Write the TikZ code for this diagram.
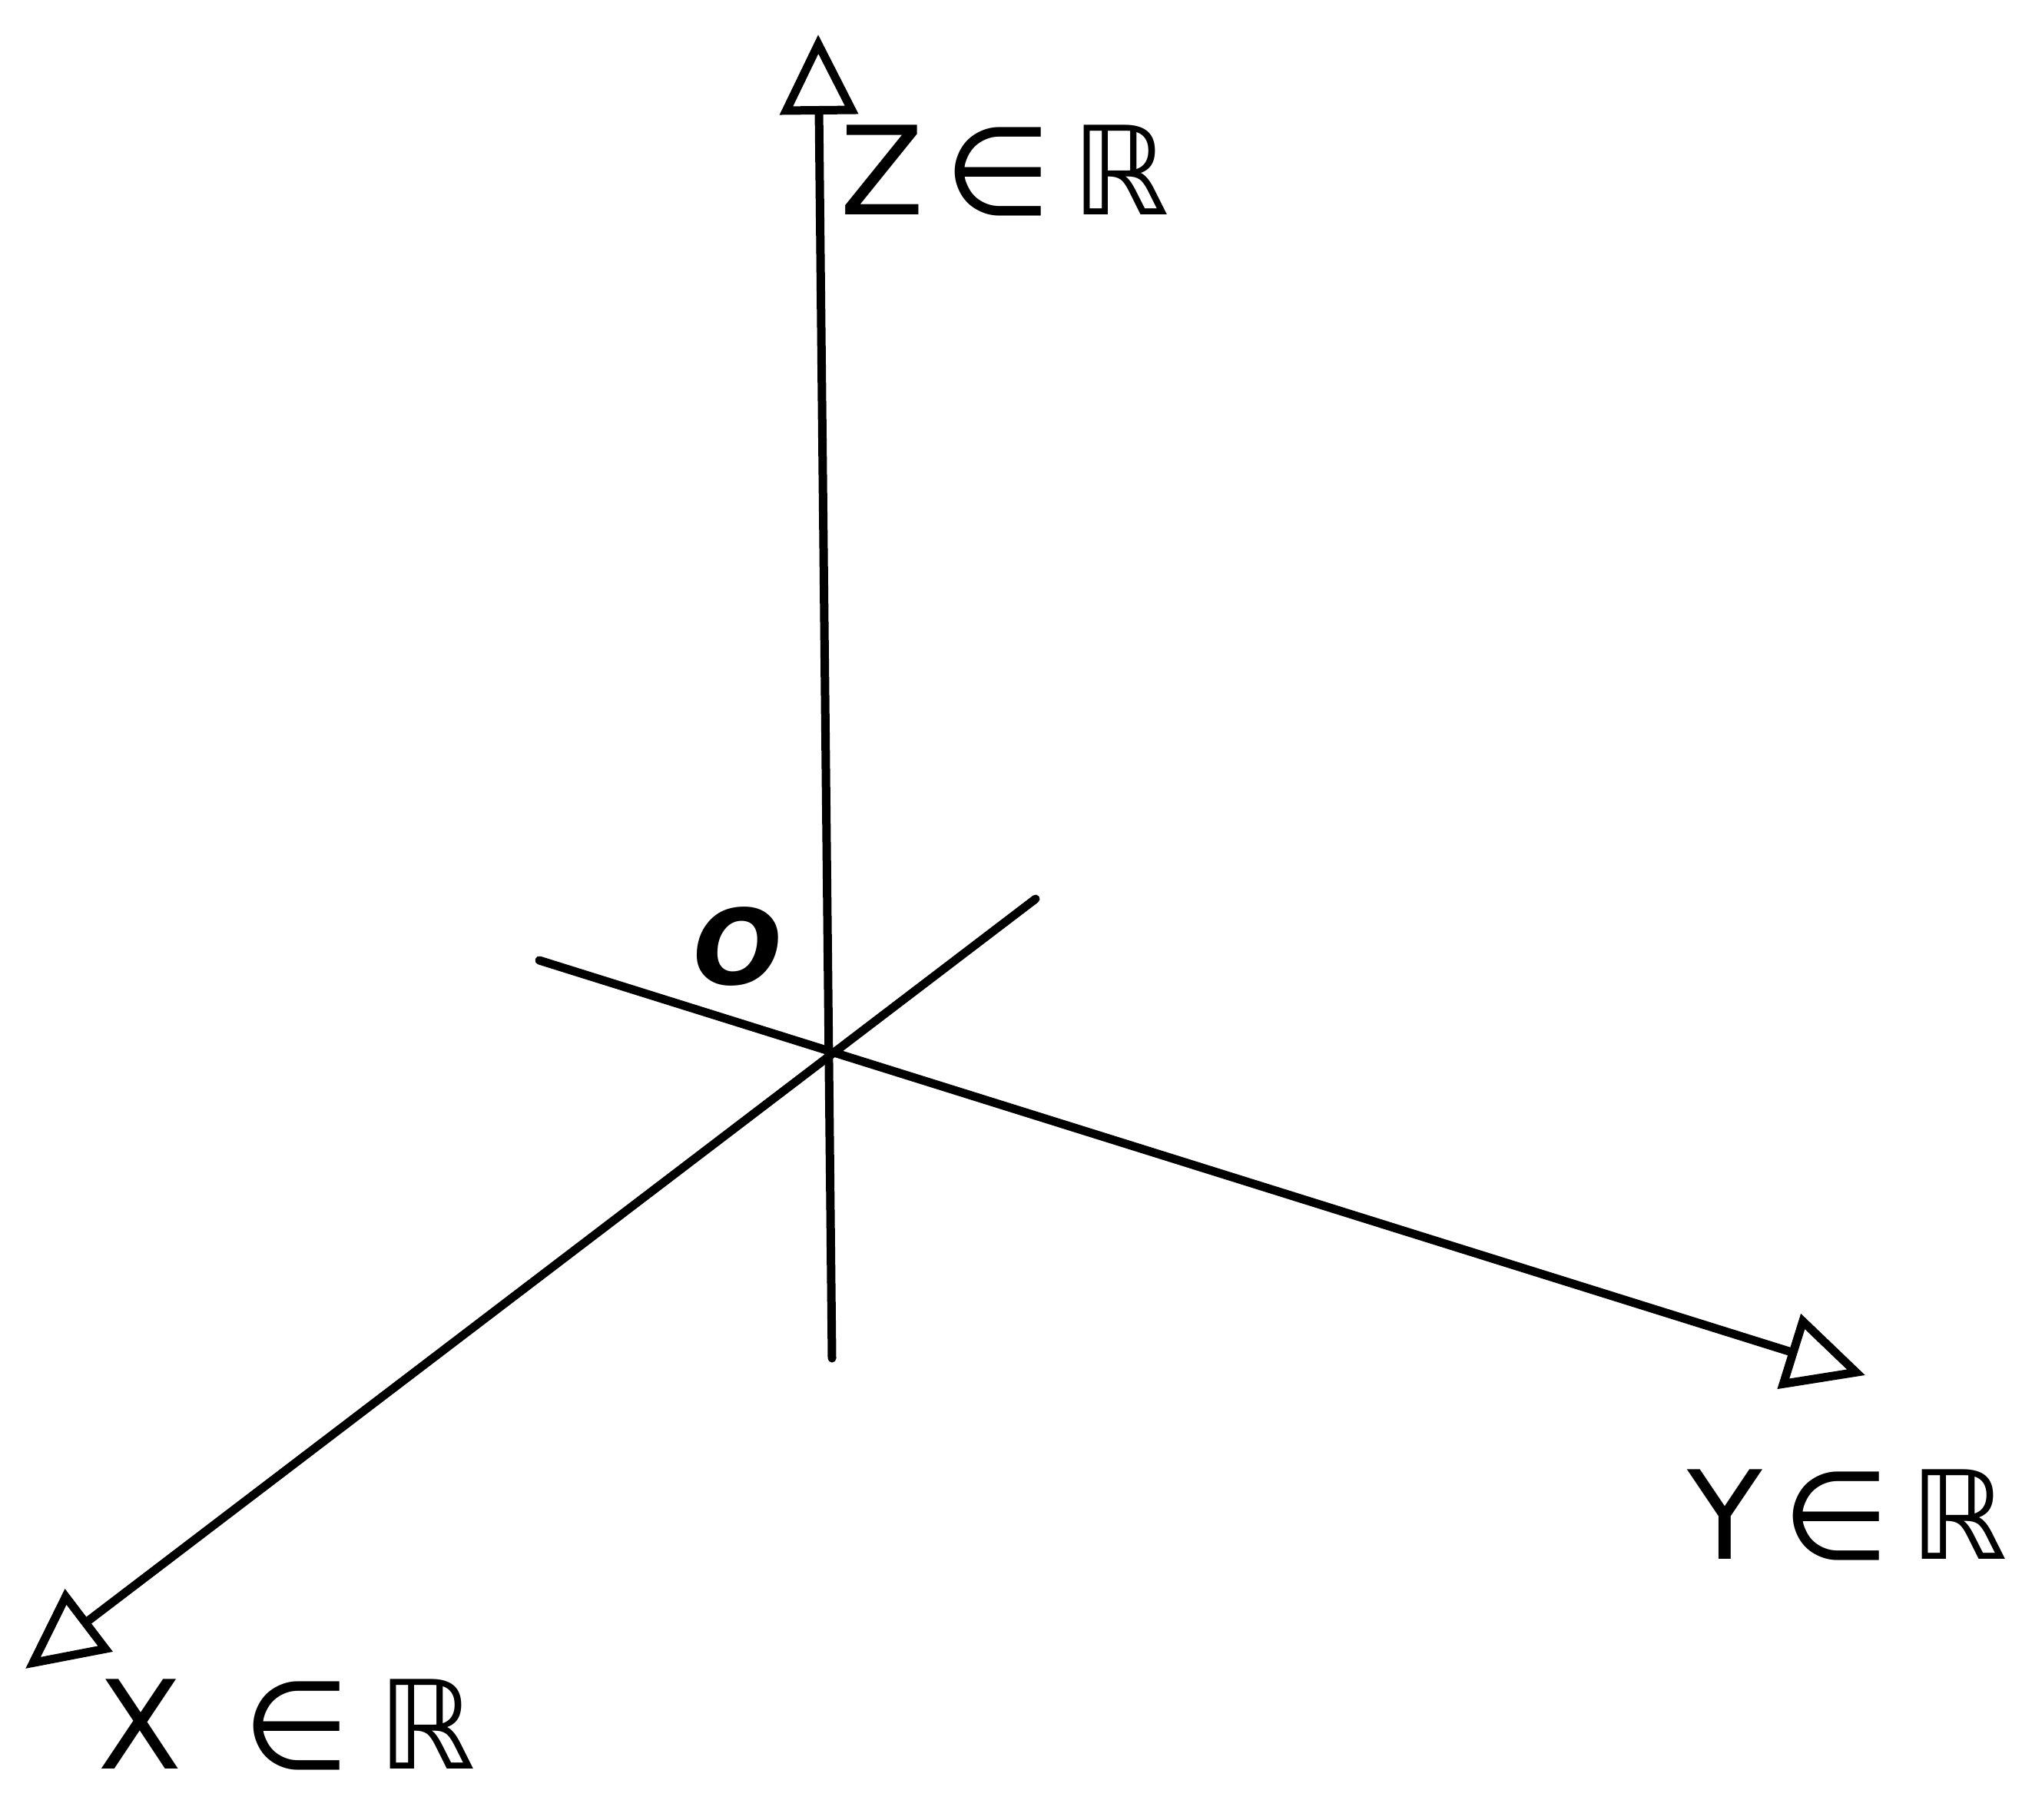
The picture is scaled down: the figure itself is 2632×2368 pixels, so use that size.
\documentclass[tikz,border=0pt]{standalone}
\usepackage{fontspec}
\setmainfont{DejaVu Sans}
\usetikzlibrary{arrows.meta}
\begin{document}
\begin{tikzpicture}[x=0.5pt,y=-0.5pt,
  axis/.style={line width=5.5pt,line cap=round,-{Triangle[open,length=52pt,width=50pt,line width=5.5pt]}},
  lbl/.style={font=\fontsize{80}{90}\selectfont,inner sep=0pt},
  orig/.style={font=\fontsize{68}{70}\selectfont\bfseries\itshape,inner sep=0pt}]
\useasboundingbox (0,0) rectangle (2632,2368);
\coordinate (O) at (1082,1373);
\coordinate (zb) at (1083,1768);
\coordinate (zt) at (1065,45);
\coordinate (ys) at (702,1250);
\coordinate (yt) at (2428,1790);
\coordinate (xs) at (1348,1170);
\coordinate (xt) at (33,2172);
\draw[axis] (zb) -- (zt);
\draw[axis] (ys) -- (yt);
\draw[axis] (xs) -- (xt);
\node[orig] (o) at (960,1232) {O};
\node[lbl] (zl) at (1308,222) {Z\,∈\,ℝ};
\node[lbl] (yl) at (2405,1972) {Y\,∈\,ℝ};
\node[lbl] (xl) at (373,2245) {X\hspace{40pt}∈\hspace{18pt}ℝ};
\end{tikzpicture}
\end{document}
